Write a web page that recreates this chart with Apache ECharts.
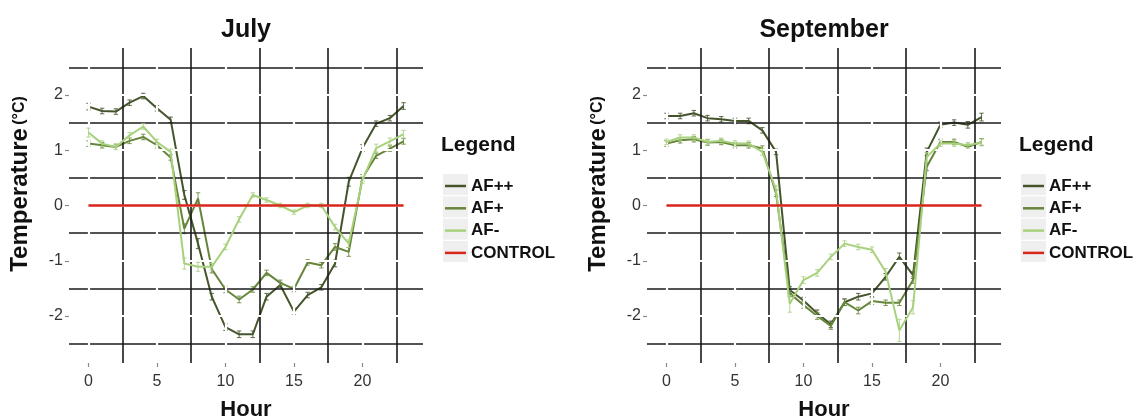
<!DOCTYPE html>
<html>
<head>
<meta charset="utf-8">
<script src="https://cdn.jsdelivr.net/npm/echarts@6/dist/echarts.min.js"></script>
<style>
html,body{margin:0;padding:0;background:#fff;}
#chart{width:1139px;height:418px;}
</style>
</head>
<body>
<div id="chart"></div>
<script>
// ---- data ----
const hours = [0,1,2,3,4,5,6,7,8,9,10,11,12,13,14,15,16,17,18,19,20,21,22,23];
const seriesNames = ['AF++','AF+','AF-','CONTROL'];
const panelTitles = ['July','September'];

const julyAFpp = [1.79,1.71,1.70,1.86,1.98,1.76,1.55,0.19,-0.69,-1.65,-2.20,-2.33,-2.33,-1.65,-1.44,-1.92,-1.62,-1.48,-1.05,0.43,1.04,1.48,1.58,1.80];
const julyAFp  = [1.12,1.09,1.06,1.17,1.24,1.09,0.87,-0.42,0.13,-1.15,-1.52,-1.70,-1.52,-1.22,-1.40,-1.51,-1.03,-1.08,-0.75,-0.84,0.50,0.90,1.03,1.16];
const julyAFm  = [1.32,1.12,1.06,1.27,1.43,1.15,0.97,-1.05,-1.11,-1.11,-0.75,-0.25,0.19,0.10,0.00,-0.12,0.00,0.00,-0.39,-0.69,0.46,1.04,1.16,1.29];
const julyCtrl = [0,0,0,0,0,0,0,0,0,0,0,0,0,0,0,0,0,0,0,0,0,0,0,0];

const septAFpp = [1.62,1.62,1.67,1.58,1.56,1.53,1.53,1.36,0.97,-1.53,-1.72,-1.95,-2.15,-1.75,-1.65,-1.59,-1.29,-0.93,-1.26,0.97,1.46,1.50,1.46,1.60];
const septAFp  = [1.12,1.18,1.20,1.14,1.15,1.09,1.09,1.03,0.22,-1.59,-1.80,-2.00,-2.18,-1.75,-1.90,-1.73,-1.76,-1.76,-1.35,0.70,1.15,1.15,1.06,1.15];
const septAFm  = [1.15,1.23,1.23,1.15,1.17,1.12,1.12,0.97,0.28,-1.78,-1.35,-1.22,-0.93,-0.69,-0.75,-0.80,-1.20,-2.26,-1.84,0.88,1.12,1.12,1.09,1.14];
const septCtrl = [0,0,0,0,0,0,0,0,0,0,0,0,0,0,0,0,0,0,0,0,0,0,0,0];

// error half-widths (standard errors)
const julyErrPP = [0.06,0.05,0.05,0.05,0.05,0.05,0.05,0.08,0.09,0.06,0.06,0.06,0.06,0.06,0.05,0.06,0.05,0.05,0.06,0.08,0.06,0.05,0.05,0.06];
const julyErrP  = [0.05,0.05,0.05,0.05,0.05,0.05,0.05,0.09,0.10,0.07,0.06,0.06,0.05,0.05,0.05,0.05,0.05,0.05,0.06,0.08,0.06,0.05,0.05,0.05];
const julyErrM  = [0.08,0.05,0.05,0.05,0.05,0.05,0.05,0.10,0.08,0.06,0.05,0.05,0.04,0.04,0.04,0.04,0.04,0.04,0.05,0.07,0.06,0.07,0.06,0.07];
const septErrPP = [0.05,0.05,0.05,0.05,0.05,0.05,0.05,0.05,0.05,0.06,0.06,0.06,0.06,0.06,0.06,0.06,0.06,0.07,0.06,0.07,0.05,0.05,0.06,0.07];
const septErrP  = [0.05,0.05,0.05,0.05,0.05,0.05,0.05,0.05,0.06,0.06,0.06,0.06,0.06,0.06,0.06,0.06,0.05,0.05,0.06,0.07,0.05,0.05,0.05,0.06];
const septErrM  = [0.05,0.05,0.05,0.05,0.05,0.05,0.05,0.06,0.08,0.15,0.06,0.06,0.05,0.05,0.05,0.05,0.06,0.20,0.12,0.08,0.05,0.05,0.05,0.06];

const xTicks = [0,5,10,15,20];
const yTicks = [-2,-1,0,1,2];
const xMinorGrid = [2.5,7.5,12.5,17.5,22.5];
const yMinorGrid = [-2.5,-1.5,-0.5,0.5,1.5,2.5];

// ---- styling ----
const colors = {'AF++':'#44552c','AF+':'#66853a','AF-':'#a8d17e','CONTROL':'#d9261c'};
const FONT = 'Liberation Sans, Arial, sans-serif';

const panels = [
  {vals:{'AF++':julyAFpp,'AF+':julyAFp,'AF-':julyAFm,'CONTROL':julyCtrl},
   errs:{'AF++':julyErrPP,'AF+':julyErrP,'AF-':julyErrM}},
  {vals:{'AF++':septAFpp,'AF+':septAFp,'AF-':septAFm,'CONTROL':septCtrl},
   errs:{'AF++':septErrPP,'AF+':septErrP,'AF-':septErrM}}
];
const gridLefts = [69, 647];
const gridTop = 48, gridW = 354, gridH = 315;

const grids = gridLefts.map(l => ({left:l, top:gridTop, width:gridW, height:gridH}));
const hiddenLine = {show:true, onZero:false, lineStyle:{color:'rgba(0,0,0,0)', width:0}};
const xAxes = gridLefts.map((l,i) => ({
  gridIndex:i, type:'value', min:-1.42, max:24.42,
  splitLine:{show:false}, axisLine:hiddenLine,
  axisTick:{show:true, customValues:xTicks, length:4, lineStyle:{color:'#8a8a8a', width:1.2}},
  axisLabel:{customValues:xTicks, margin:11, color:'#333', fontSize:16, fontFamily:FONT}
}));
const yAxes = gridLefts.map((l,i) => ({
  gridIndex:i, type:'value', min:-2.85, max:2.85,
  splitLine:{show:false}, axisLine:hiddenLine,
  axisTick:{show:true, customValues:yTicks, length:4, lineStyle:{color:'#8a8a8a', width:1.2}},
  axisLabel:{customValues:yTicks, margin:6, color:'#333', fontSize:16, fontFamily:FONT}
}));

const series = [];
panels.forEach((p,i) => {
  // black minor grid
  series.push({
    type:'line', xAxisIndex:i, yAxisIndex:i, data:[], z:1, silent:true,
    markLine:{silent:true, symbol:['none','none'], label:{show:false}, animation:false,
      lineStyle:{color:'#1a1a1a', width:1.6, type:'solid'},
      data: xMinorGrid.map(v=>({xAxis:v})).concat(yMinorGrid.map(v=>({yAxis:v})))}
  });
  // white major grid drawn over
  series.push({
    type:'line', xAxisIndex:i, yAxisIndex:i, data:[], z:2, silent:true,
    markLine:{silent:true, symbol:['none','none'], label:{show:false}, animation:false,
      lineStyle:{color:'#ffffff', width:2.2, type:'solid'},
      data: xTicks.map(v=>({xAxis:v})).concat(yTicks.map(v=>({yAxis:v})))}
  });
  ['AF++','AF+','AF-'].forEach((nm,k) => {
    const v = p.vals[nm], e = p.errs[nm];
    series.push({
      name:nm, type:'custom', xAxisIndex:i, yAxisIndex:i, z:3+k,
      itemStyle:{color:colors[nm]},
      data: hours.map((h,j)=>[h, v[j]-e[j], v[j]+e[j]]),
      renderItem:(params, api) => {
        const x = api.value(0);
        const lo = api.coord([x, api.value(1)]);
        const hi = api.coord([x, api.value(2)]);
        const w = 2.2;
        const st = {stroke:colors[nm], lineWidth:1, opacity:0.85};
        return {type:'group', children:[
          {type:'line', shape:{x1:lo[0],y1:lo[1],x2:hi[0],y2:hi[1]}, style:st},
          {type:'line', shape:{x1:lo[0]-w,y1:lo[1],x2:lo[0]+w,y2:lo[1]}, style:st},
          {type:'line', shape:{x1:hi[0]-w,y1:hi[1],x2:hi[0]+w,y2:hi[1]}, style:st}
        ]};
      }
    });
    series.push({
      name:nm, type:'line', xAxisIndex:i, yAxisIndex:i, z:3+k,
      showSymbol:false, symbol:'none',
      itemStyle:{color:colors[nm]},
      lineStyle:{color:colors[nm], width:2},
      data: hours.map((h,j)=>[h, v[j]])
    });
  });
  series.push({
    name:'CONTROL', type:'line', xAxisIndex:i, yAxisIndex:i, z:7,
    showSymbol:false, symbol:'none',
    itemStyle:{color:colors['CONTROL']},
    lineStyle:{color:colors['CONTROL'], width:2.5},
    data: hours.map((h,j)=>[h, p.vals['CONTROL'][j]])
  });
});

const legendLefts = [445, 1023];
const legends = legendLefts.map(l => ({
  left:l, top:177, orient:'vertical', selectedMode:false, padding:0,
  data: seriesNames, icon:'rect', itemWidth:21, itemHeight:2.5, itemGap:4.3,
  textStyle:{fontSize:17, fontWeight:'bold', color:'#111', fontFamily:FONT, lineHeight:18, height:18}
}));

const graphics = [];
const panelCenters = gridLefts.map(l => l + gridW/2);
panelCenters.forEach((cx,i) => {
  graphics.push({type:'text', x:cx, y:30, style:{text:panelTitles[i], align:'center', verticalAlign:'middle', font:'bold 25px '+FONT, fill:'#111'}});
  graphics.push({type:'text', x:cx, y:410, style:{text:'Hour', align:'center', verticalAlign:'middle', font:'bold 22px '+FONT, fill:'#111'}});
});
[20, 598].forEach(x => {
  graphics.push({type:'text', x:x, y:184, rotation:Math.PI/2,
    style:{text:'{a|Temperature} {b|(°C)}', align:'center', verticalAlign:'middle',
      rich:{a:{font:'bold 24px '+FONT, fill:'#111'}, b:{font:'bold 16px '+FONT, fill:'#111'}}}});
});
[441, 1019].forEach(x => {
  graphics.push({type:'text', x:x, y:145, style:{text:'Legend', align:'left', verticalAlign:'middle', font:'bold 21px '+FONT, fill:'#111'}});
  [0,1,2,3].forEach(r => {
    graphics.push({type:'rect', z:-1, x:x+2, y:174 + r*22.3, shape:{width:25, height:21}, style:{fill:'#efefef'}});
  });
});

const chart = echarts.init(document.getElementById('chart'), null, {renderer:'canvas'});
chart.setOption({
  animation:false,
  backgroundColor:'#fff',
  grid:grids, xAxis:xAxes, yAxis:yAxes,
  legend:legends,
  series:series,
  graphic:graphics
});
</script>
</body>
</html>
